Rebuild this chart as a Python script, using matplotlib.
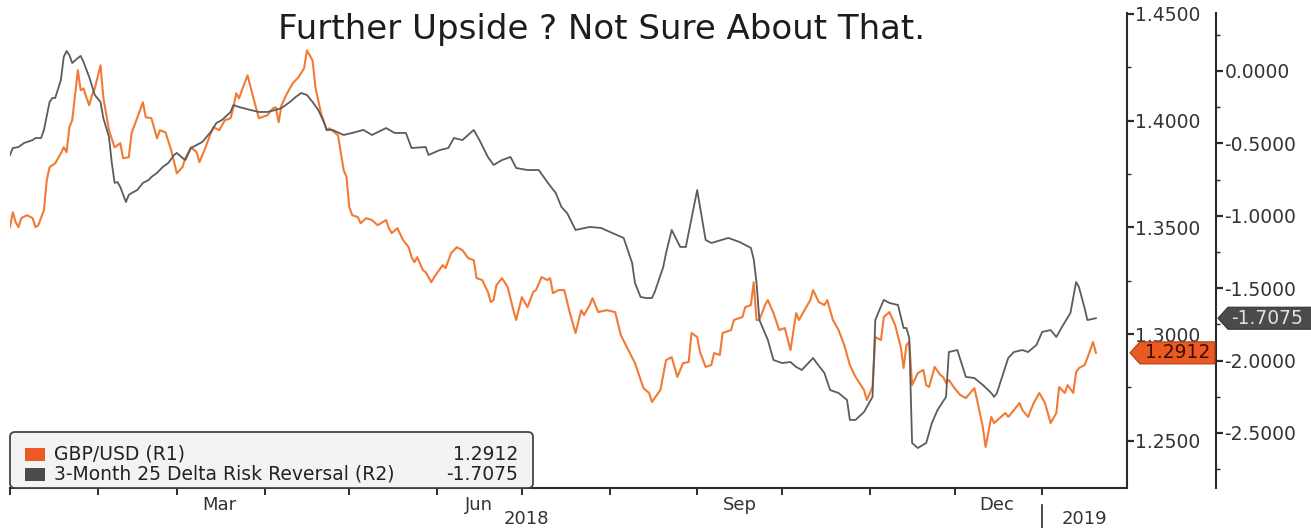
import matplotlib
matplotlib.use("Agg")
import matplotlib.pyplot as plt
import matplotlib.dates as mdates
import matplotlib.ticker as mticker
import matplotlib.transforms as mtransforms
from matplotlib.patches import FancyBboxPatch, Rectangle, Polygon
import pandas as pd

# ---- data (days counted from 1 Jan 2018) ----
start = pd.Timestamp("2018-01-01")
end = pd.Timestamp("2019-01-31")

gbp_days = [0, 1, 2, 3, 4, 6, 8, 9, 10, 12, 13, 14, 16, 18, 19, 20, 21, 22, 24, 25,
            26, 27, 28, 29, 30, 32, 33, 35, 37, 39, 40, 42, 43, 47, 48, 50, 52, 53, 55, 57,
            59, 61, 62, 64, 66, 67, 69, 71, 72, 74, 76, 78, 79, 80, 81, 82, 84, 86, 88, 91,
            93, 94, 95, 96, 98, 100, 102, 104, 105, 107, 108, 110, 112, 113, 116, 118, 119, 120, 121, 123,
            124, 126, 128, 130, 133, 134, 135, 137, 139, 141, 142, 143, 144, 146, 147, 149, 150, 153, 154, 156,
            158, 160, 162, 164, 165, 167, 169, 170, 171, 172, 174, 176, 178, 179, 181, 183, 185, 186, 188, 190,
            191, 192, 194, 196, 198, 200, 202, 203, 205, 206, 208, 211, 214, 216, 219, 221, 224, 226, 227, 230,
            232, 234, 236, 238, 240, 241, 243, 244, 246, 248, 249, 251, 252, 255, 256, 259, 260, 262, 263, 264,
            265, 267, 268, 270, 272, 274, 276, 278, 279, 281, 283, 284, 286, 288, 289, 291, 293, 295, 297, 299,
            302, 303, 305, 306, 308, 309, 311, 313, 315, 316, 317, 318, 319, 321, 323, 324, 325, 327, 329, 330,
            331, 332, 334, 336, 338, 341, 342, 344, 345, 347, 348, 350, 352, 353, 355, 357, 358, 360, 362, 364,
            366, 368, 370, 371, 373, 374, 376, 377, 378, 380, 381, 383, 384]
gbp_vals = [1.3501, 1.3571, 1.3524, 1.3501, 1.3543, 1.3557, 1.3543, 1.3501, 1.3510, 1.3580,
            1.3721, 1.3782, 1.3800, 1.3847, 1.3875, 1.3852, 1.3969, 1.4002, 1.4236, 1.4142,
            1.4151, 1.4109, 1.4072, 1.4119, 1.4151, 1.4259, 1.4109, 1.3955, 1.3875, 1.3894,
            1.3824, 1.3828, 1.3941, 1.4086, 1.4016, 1.4011, 1.3917, 1.3955, 1.3945, 1.3861,
            1.3753, 1.3782, 1.3824, 1.3875, 1.3852, 1.3805, 1.3870, 1.3941, 1.3969, 1.3955,
            1.4002, 1.4011, 1.4062, 1.4128, 1.4104, 1.4142, 1.4212, 1.4109, 1.4011, 1.4025,
            1.4058, 1.4062, 1.3992, 1.4072, 1.4128, 1.4175, 1.4203, 1.4245, 1.4329, 1.4282,
            1.4156, 1.4034, 1.3955, 1.3964, 1.3931, 1.3768, 1.3735, 1.3594, 1.3557, 1.3548,
            1.3519, 1.3543, 1.3534, 1.3510, 1.3534, 1.3496, 1.3473, 1.3496, 1.3440, 1.3407,
            1.3360, 1.3337, 1.3360, 1.3300, 1.3290, 1.3243, 1.3267, 1.3323, 1.3309, 1.3379,
            1.3407, 1.3393, 1.3356, 1.3346, 1.3262, 1.3253, 1.3197, 1.3150, 1.3159, 1.3229,
            1.3262, 1.3220, 1.3112, 1.3066, 1.3173, 1.3126, 1.3197, 1.3206, 1.3267, 1.3253,
            1.3262, 1.3192, 1.3206, 1.3206, 1.3098, 1.3005, 1.3112, 1.3089, 1.3136, 1.3168,
            1.3103, 1.3112, 1.3103, 1.2995, 1.2916, 1.2864, 1.2747, 1.2724, 1.2682, 1.2738,
            1.2878, 1.2892, 1.2799, 1.2864, 1.2869, 1.3005, 1.2986, 1.2916, 1.2846, 1.2855,
            1.2911, 1.2902, 1.3005, 1.3019, 1.3066, 1.3080, 1.3126, 1.3136, 1.3243, 1.3066,
            1.3066, 1.3136, 1.3159, 1.3098, 1.3019, 1.3028, 1.2925, 1.3098, 1.3066, 1.3112,
            1.3159, 1.3206, 1.3150, 1.3136, 1.3159, 1.3066, 1.3019, 1.2949, 1.2855, 1.2799,
            1.2738, 1.2691, 1.2752, 1.2986, 1.2972, 1.3080, 1.3103, 1.3042, 1.2939, 1.2841,
            1.2949, 1.2963, 1.2761, 1.2817, 1.2832, 1.2761, 1.2752, 1.2846, 1.2808, 1.2799,
            1.2771, 1.2785, 1.2747, 1.2715, 1.2700, 1.2747, 1.2691, 1.2565, 1.2471, 1.2612,
            1.2583, 1.2607, 1.2630, 1.2612, 1.2644, 1.2677, 1.2644, 1.2612, 1.2677, 1.2724,
            1.2677, 1.2583, 1.2630, 1.2752, 1.2724, 1.2761, 1.2724, 1.2822, 1.2841, 1.2855,
            1.2888, 1.2963, 1.2912]

rr_days = [0, 1, 3, 5, 8, 9, 11, 12, 14, 15, 16, 18, 19, 20, 21, 22, 24, 25, 26, 28,
           30, 32, 33, 35, 36, 37, 38, 39, 41, 42, 43, 45, 47, 49, 50, 52, 54, 56, 58, 59,
           61, 62, 64, 66, 68, 71, 73, 75, 78, 79, 81, 85, 88, 91, 94, 96, 99, 101, 103, 105,
           107, 109, 111, 112, 114, 118, 121, 125, 128, 133, 136, 140, 142, 147, 148, 152, 155, 157, 160, 164,
           166, 169, 171, 174, 177, 179, 183, 187, 190, 193, 195, 197, 200, 205, 209, 213, 217, 220, 221, 223,
           225, 227, 228, 231, 232, 234, 237, 239, 243, 246, 248, 254, 258, 262, 263, 264, 265, 268, 270, 273,
           276, 278, 280, 284, 285, 288, 290, 293, 296, 297, 299, 302, 305, 306, 307, 309, 311, 314, 316, 317,
           318, 319, 321, 324, 326, 328, 331, 332, 335, 338, 341, 344, 347, 348, 349, 353, 355, 358, 360, 363,
           365, 368, 370, 372, 375, 377, 378, 380, 381, 384]
rr_vals = [-0.580, -0.532, -0.525, -0.497, -0.477, -0.463, -0.463, -0.407, -0.214, -0.186,
           -0.186, -0.062, 0.097, 0.138, 0.110, 0.055, 0.090, 0.104, 0.062, -0.041,
           -0.166, -0.214, -0.325, -0.456, -0.635, -0.773, -0.767, -0.801, -0.905, -0.856,
           -0.843, -0.822, -0.773, -0.753, -0.732, -0.704, -0.663, -0.635, -0.580, -0.566,
           -0.601, -0.615, -0.532, -0.511, -0.490, -0.421, -0.359, -0.338, -0.283, -0.235,
           -0.249, -0.269, -0.283, -0.283, -0.269, -0.256, -0.214, -0.180, -0.152, -0.166,
           -0.214, -0.269, -0.352, -0.407, -0.407, -0.442, -0.428, -0.407, -0.442, -0.394,
           -0.428, -0.428, -0.532, -0.525, -0.580, -0.546, -0.532, -0.463, -0.477, -0.407,
           -0.477, -0.594, -0.649, -0.615, -0.594, -0.670, -0.684, -0.684, -0.767, -0.843,
           -0.939, -0.981, -1.098, -1.077, -1.084, -1.119, -1.153, -1.326, -1.464, -1.561,
           -1.568, -1.568, -1.526, -1.354, -1.257, -1.098, -1.215, -1.215, -0.822, -1.167,
           -1.188, -1.153, -1.181, -1.222, -1.300, -1.464, -1.720, -1.858, -1.996, -2.017,
           -2.010, -2.044, -2.065, -1.982, -2.010, -2.086, -2.203, -2.224, -2.272, -2.410,
           -2.410, -2.355, -2.251, -1.720, -1.671, -1.581, -1.602, -1.616, -1.775, -1.775,
           -1.844, -2.569, -2.604, -2.569, -2.431, -2.341, -2.251, -1.941, -1.927, -2.113,
           -2.120, -2.168, -2.224, -2.251, -2.224, -1.982, -1.941, -1.927, -1.941, -1.892,
           -1.802, -1.789, -1.837, -1.768, -1.671, -1.457, -1.492, -1.637, -1.720, -1.7075]

title = "Further Upside ? Not Sure About That."
gbp_label = "GBP/USD (R1)"
rr_label = "3-Month 25 Delta Risk Reversal (R2)"
gbp_last = gbp_vals[-1]
rr_last = rr_vals[-1]
r1_ticks = [1.25, 1.30, 1.35, 1.40, 1.45]
r2_ticks = [0.0, -0.5, -1.0, -1.5, -2.0, -2.5]
quarter_months = ["2018-03-16", "2018-06-16", "2018-09-16", "2018-12-16"]
quarter_labels = ["Mar", "Jun", "Sep", "Dec"]
year_labels = ["2018", "2019"]
year_break = pd.Timestamp("2019-01-01")

ORANGE = "#f27a35"
ORANGE_TAG = "#ec5a24"
GRAY = "#5c5c5c"
GRAY_TAG = "#4b4b4b"
INK = "#2b2b2b"

plt.rcParams["font.family"] = "DejaVu Sans"
plt.rcParams["axes.unicode_minus"] = False


def to_dates(days):
    return start + pd.to_timedelta(days, unit="D")


W, H, DPI = 1311, 528, 100
fig = plt.figure(figsize=(W / DPI, H / DPI), dpi=DPI)
ax = fig.add_axes([10 / W, 40 / H, 1117 / W, 475 / H])
ax2 = ax.twinx()

ax.plot(to_dates(gbp_days), gbp_vals, color=ORANGE, lw=1.5)
ax2.plot(to_dates(rr_days), rr_vals, color=GRAY, lw=1.3)

ax.set_xlim(start, end)
r1_lim = (1.2279, 1.4504)
r2_lim = (-2.880, 0.4005)
ax.set_ylim(*r1_lim)
ax2.set_ylim(*r2_lim)

# spines
for s in ["top", "left"]:
    ax.spines[s].set_visible(False)
for s in ["top", "left", "bottom"]:
    ax2.spines[s].set_visible(False)
for s in ["bottom", "right"]:
    ax.spines[s].set_color(INK)
    ax.spines[s].set_linewidth(1.5)
ax2.spines["right"].set_color(INK)
ax2.spines["right"].set_linewidth(1.5)
ax2.spines["right"].set_position(("axes", 1206 / 1117))

# R1 axis
ax.yaxis.tick_right()
ax.set_yticks(r1_ticks)
ax.set_yticklabels([f"{t:.4f}" for t in r1_ticks])
ax.yaxis.set_minor_locator(mticker.FixedLocator(
    [(a + b) / 2 for a, b in zip(r1_ticks[:-1], r1_ticks[1:])]))
ax.tick_params(axis="y", which="major", direction="out", length=5, width=1.6,
               color=INK, labelcolor="#333333", labelsize=13.5, pad=1)
ax.tick_params(axis="y", which="minor", direction="out", length=3, width=1, color=INK)

# R2 axis
ax2.set_yticks(r2_ticks)
ax2.set_yticklabels([f"{t:.4f}" for t in r2_ticks])
ax2.yaxis.set_minor_locator(mticker.FixedLocator(
    [t - 0.25 for t in r2_ticks] + [r2_ticks[0] + 0.25]))
ax2.tick_params(axis="y", which="major", direction="out", length=5, width=1.6,
                color=INK, labelcolor="#333333", labelsize=13.5, pad=1)
ax2.tick_params(axis="y", which="minor", direction="out", length=3, width=1, color=INK)

# x axis: month ticks, quarter labels, years
ax.xaxis.set_major_locator(mdates.MonthLocator())
ax.xaxis.set_major_formatter(mticker.NullFormatter())
ax.xaxis.set_minor_locator(mticker.FixedLocator(mdates.date2num(pd.to_datetime(quarter_months))))
ax.xaxis.set_minor_formatter(mticker.FixedFormatter(quarter_labels))
ax.tick_params(axis="x", which="major", direction="out", length=5, width=1.4, color=INK)
ax.tick_params(axis="x", which="minor", length=0, pad=6, labelsize=13, labelcolor="#333333")

xtrans = mtransforms.blended_transform_factory(ax.transData, ax.transAxes)
year_centers = [start + (year_break - start) / 2, year_break + (end - year_break) / 2]
for yc, yl in zip(year_centers, year_labels):
    ax.text(yc, -0.066, yl, transform=xtrans, ha="center", va="center",
            fontsize=13, color="#333333")
ax.plot([year_break, year_break], [-0.036, -0.085], transform=xtrans,
        color=INK, lw=1.2, clip_on=False)

# title
fig.text(601 / W, 1 - 30 / H, title, ha="center", va="center",
         fontsize=24.5, color="#1d1d1d")

# legend box (figure inches)
inch = fig.dpi_scale_trans
fig.add_artist(FancyBboxPatch((0.10, 0.40), 5.23, 0.56,
                              boxstyle="round,pad=0,rounding_size=0.05",
                              transform=inch, facecolor="#f3f3f3",
                              edgecolor="#444444", lw=1.3, zorder=5))
rows = [(0.74, ORANGE_TAG, gbp_label, f"{gbp_last:.4f}"),
        (0.54, GRAY_TAG, rr_label, f"{rr_last:.4f}")]
for yy, col, lab, val in rows:
    fig.add_artist(Rectangle((0.25, yy - 0.065), 0.20, 0.13, transform=inch,
                             facecolor=col, edgecolor="none", zorder=6))
    fig.text(0.54, yy, lab, transform=inch, ha="left", va="center",
             fontsize=13.5, color="#222222", zorder=6)
    fig.text(5.18, yy, val, transform=inch, ha="right", va="center",
             fontsize=13.5, color="#222222", zorder=6)

# last-value tags
t1 = mtransforms.blended_transform_factory(inch, ax.transData)
h1 = 11 * (r1_lim[1] - r1_lim[0]) / 475
fig.add_artist(Polygon([(11.30, gbp_last), (11.40, gbp_last + h1), (12.15, gbp_last + h1),
                        (12.15, gbp_last - h1), (11.40, gbp_last - h1)], closed=True,
                       transform=t1, facecolor=ORANGE_TAG, edgecolor="#a83a12",
                       lw=0.8, zorder=6))
fig.text(11.78, gbp_last, f"{gbp_last:.4f}", transform=t1, ha="center", va="center",
         fontsize=13.5, color="#3a0f00", zorder=7)

t2 = mtransforms.blended_transform_factory(inch, ax2.transData)
h2 = 11 * (r2_lim[1] - r2_lim[0]) / 475
fig.add_artist(Polygon([(12.18, rr_last), (12.28, rr_last + h2), (13.12, rr_last + h2),
                        (13.12, rr_last - h2), (12.28, rr_last - h2)], closed=True,
                       transform=t2, facecolor=GRAY_TAG, edgecolor="#333333",
                       lw=0.8, zorder=6))
fig.text(12.67, rr_last, f"{rr_last:.4f}", transform=t2, ha="center", va="center",
         fontsize=13.5, color="#e2e2e2", zorder=7)

fig.savefig("out.png", dpi=DPI)
